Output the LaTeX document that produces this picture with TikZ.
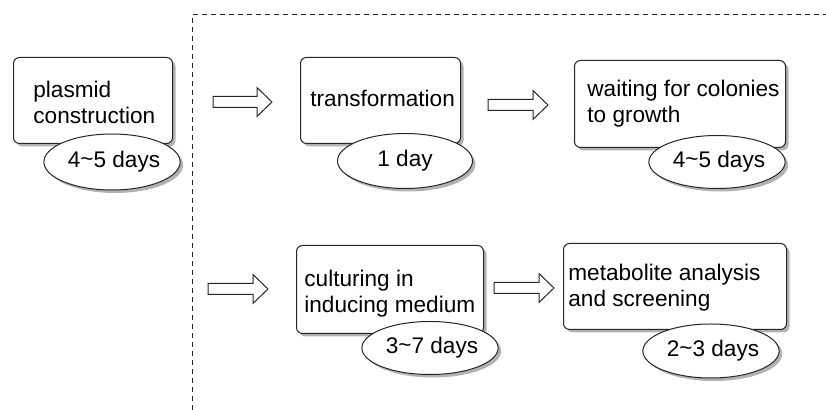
\documentclass[tikz,border=0pt]{standalone}
\usepackage{fontspec}
\setmainfont{Liberation Sans}
\usetikzlibrary{shapes.geometric,shadows}
\newcommand\blockarr[3]{%
  \draw[blockarrow,shift={(#1,#3)}] (0,-5.5) -- ({#2-#1-15},-5.5) -- ({#2-#1-15},-14.5) -- ({#2-#1},0)
    -- ({#2-#1-15},14.5) -- ({#2-#1-15},5.5) -- (0,5.5) -- cycle;}
\begin{document}
\begin{tikzpicture}[x=0.5pt,y=-0.5pt,
  shad/.style={drop shadow={shadow xshift=1.5pt,shadow yshift=-1.5pt,fill=black!30,opacity=1}},
  stepbox/.style={draw=black!85,line width=0.5pt,rounded corners=3pt,fill=white,shad,inner sep=0,anchor=north west},
  dayellipse/.style={ellipse,draw=black!85,line width=0.5pt,fill=white,shad,inner sep=0,
     font=\fontsize{11.3}{13}\selectfont,minimum width=67.5pt,minimum height=27pt},
  txt/.style={font=\fontsize{11.3}{13}\selectfont,align=left,anchor=base west,inner sep=0},
  blockarrow/.style={draw=black!85,line width=0.5pt,fill=white},
  sep/.style={draw=black!85,line width=0.5pt,dash pattern=on 2.5pt off 2pt}]
\useasboundingbox (0,0) rectangle (826,410);
% separator
\coordinate (sb) at (192,410);
\coordinate (sc) at (192,15);
\coordinate (se) at (826,15);
\draw[sep] (sb) -- (sc) -- (se);
% boxes
\node[stepbox,minimum width=79.5pt,minimum height=43pt] (b1) at (13,57) {};
\node[stepbox,minimum width=80pt,minimum height=43pt] (b2) at (300,57) {};
\node[stepbox,minimum width=105.5pt,minimum height=43.5pt] (b3) at (574,60) {};
\node[stepbox,minimum width=93.5pt,minimum height=44pt] (b4) at (296,245) {};
\node[stepbox,minimum width=111.5pt,minimum height=43pt] (b5) at (563,243) {};
% box texts (base anchor = last line)
\node[txt] (t1) at (33,124) {plasmid\\construction};
\node[txt] (t2) at (310,107) {transformation};
\node[txt] (t3) at (587,123) {waiting for colonies\\to growth};
\node[txt] (t4) at (304,313) {culturing in\\inducing medium};
\node[txt] (t5) at (568,307) {metabolite analysis\\and screening};
% ellipses
\node[dayellipse,minimum width=66.5pt,minimum height=28pt] (e1) at (112,162) {\hspace{2pt}4\raisebox{0.5pt}{\char`\~}5 days};
\node[dayellipse,minimum height=27.5pt] (e2) at (405,161) {1 day};
\node[dayellipse,minimum height=26.5pt] (e3) at (717,162) {\hspace{2pt}4\raisebox{0.5pt}{\char`\~}5 days};
\node[dayellipse,minimum height=26.5pt] (e4) at (430,348) {\hspace{2pt}3\raisebox{0.5pt}{\char`\~}7 days};
\node[dayellipse,minimum height=27pt] (e5) at (711,351) {\hspace{2pt}2\raisebox{0.5pt}{\char`\~}3 days};
% block arrows
\blockarr{213}{272}{102}
\blockarr{488}{548}{105}
\blockarr{208}{268}{289}
\blockarr{494}{554}{288}
\end{tikzpicture}
\end{document}
